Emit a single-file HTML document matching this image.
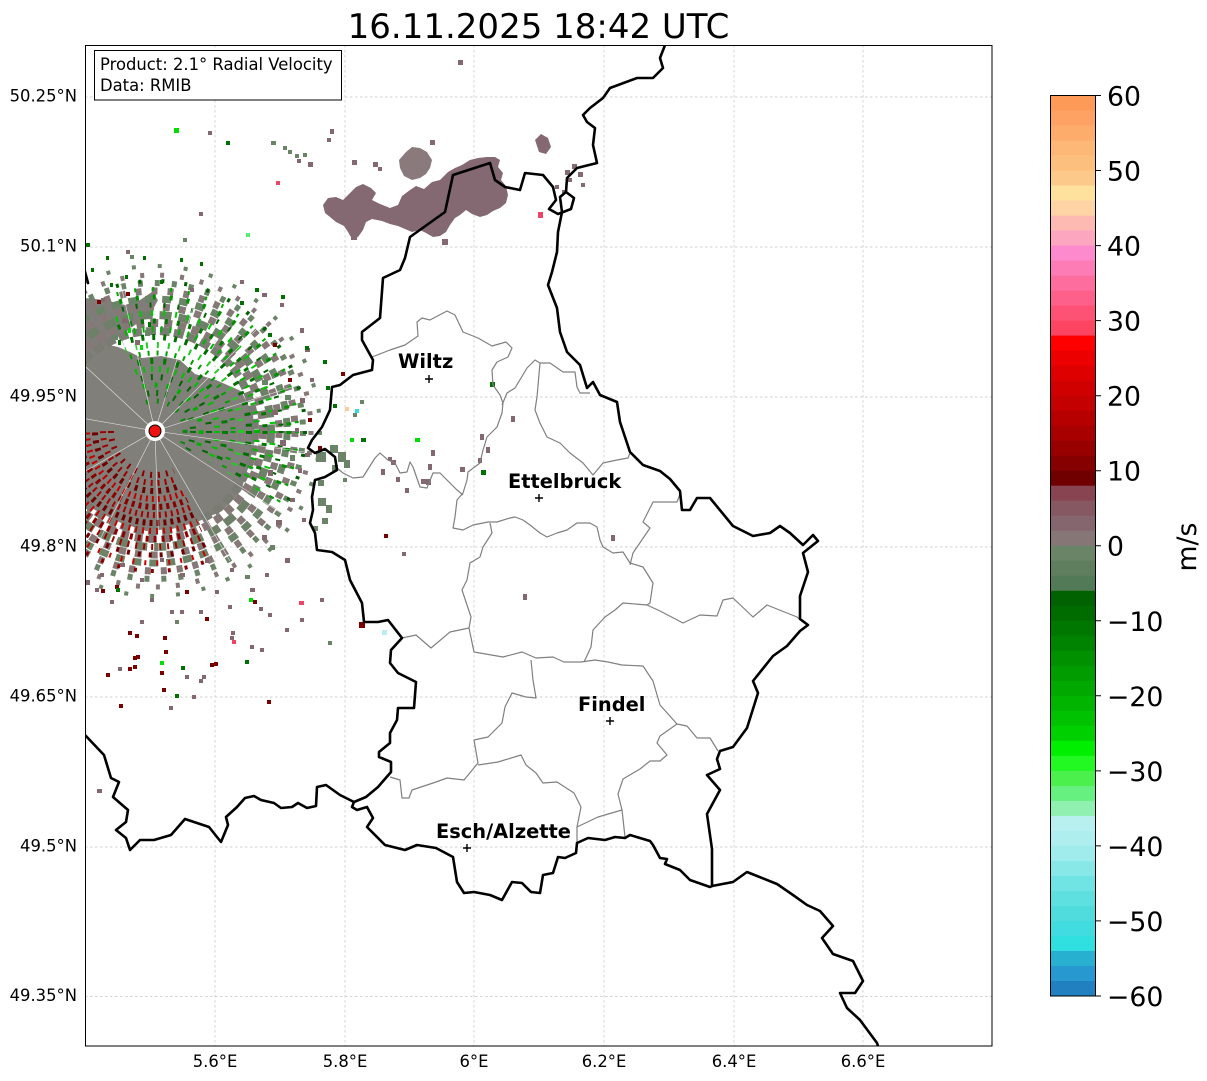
<!DOCTYPE html>
<html><head><meta charset="utf-8"><style>
html,body{margin:0;padding:0;background:#fff;}
svg{display:block;font-family:"DejaVu Sans","Liberation Sans",sans-serif;}
</style></head><body>
<svg width="1207" height="1081" viewBox="0 0 1207 1081" xmlns="http://www.w3.org/2000/svg">
<defs>
<clipPath id="mc"><rect x="85" y="45" width="907" height="1001"/></clipPath>
<clipPath id="nec"><polygon points="155,431 69,196 199,185 316,240 390,346 397,496 372,556"/></clipPath>
<clipPath id="swc"><polygon points="155,431 240,612 120,628 14,572 -42,466 -45,431"/></clipPath>
</defs>
<rect width="1207" height="1081" fill="#fff"/>
<text x="538.5" y="38" font-size="34" text-anchor="middle" fill="#000">16.11.2025 18:42 UTC</text>

<!-- gridlines -->
<g stroke="#c4c4c4" stroke-width="0.7" stroke-dasharray="2.5,2.5" fill="none">
<path d="M215,45V1046M345,45V1046M474,45V1046M604,45V1046M734,45V1046M863,45V1046"/>
<path d="M85,97H992M85,247H992M85,397H992M85,547H992M85,697H992M85,847H992M85,996.5H992"/>
</g>

<g clip-path="url(#mc)">
<!-- radar core -->
<path d="M55,431 L61,397 L71,360 L86,333 L100,343 L118,347 L130,352 L142,358 L161,356 L180,360 L195,374 L216,380 L241,391 L253,414 L255,440 L249,465 L241,491 L222,511 L197,522 L172,529 L146,531 L121,523 L91,508 L68,481 L56,448 Z" fill="#817f7a"/>
<path d="M60,300 L85,298 L105,300 L125,305 L140,300 L152,292 L158,300 L150,315 L135,325 L120,335 L108,345 L95,350 L80,350 L60,345 Z" fill="#807c7a"/>
<g fill="none">
<circle cx="155" cy="431" r="100" stroke="#7a7c74" stroke-width="8" stroke-dasharray="10 4"/>
<circle cx="155" cy="431" r="108" stroke="#857876" stroke-width="8" stroke-dasharray="8 6"/>
<circle cx="155" cy="431" r="116" stroke="#6e8068" stroke-width="8" stroke-dasharray="12 7"/>
<circle cx="155" cy="431" r="124" stroke="#857876" stroke-width="7" stroke-dasharray="7 9"/>
<circle cx="155" cy="431" r="132" stroke="#6b8468" stroke-width="7" stroke-dasharray="9 8"/>
<circle cx="155" cy="431" r="140" stroke="#857876" stroke-width="7" stroke-dasharray="6 10"/>
<circle cx="155" cy="431" r="148" stroke="#6b8468" stroke-width="6" stroke-dasharray="5 12"/>
<circle cx="155" cy="431" r="156" stroke="#857876" stroke-width="5" stroke-dasharray="4 16"/>
<circle cx="155" cy="431" r="165" stroke="#6b8468" stroke-width="4" stroke-dasharray="4 22"/>
</g>
<g fill="none" clip-path="url(#swc)">
<circle cx="155" cy="431" r="44" stroke="#8b0000" stroke-width="6" stroke-dasharray="2 6"/>
<circle cx="155" cy="431" r="52" stroke="#a00000" stroke-width="6" stroke-dasharray="2 5"/>
<circle cx="155" cy="431" r="60" stroke="#700000" stroke-width="6" stroke-dasharray="3 5"/>
<circle cx="155" cy="431" r="68" stroke="#c00000" stroke-width="6" stroke-dasharray="2 4"/>
<circle cx="155" cy="431" r="76" stroke="#8b0000" stroke-width="6" stroke-dasharray="3 4"/>
<circle cx="155" cy="431" r="84" stroke="#a80000" stroke-width="6" stroke-dasharray="2 4"/>
<circle cx="155" cy="431" r="92" stroke="#700000" stroke-width="6" stroke-dasharray="3 4"/>
<circle cx="155" cy="431" r="100" stroke="#c80000" stroke-width="6" stroke-dasharray="2 5"/>
<circle cx="155" cy="431" r="108" stroke="#8b0000" stroke-width="6" stroke-dasharray="3 5"/>
<circle cx="155" cy="431" r="116" stroke="#a00000" stroke-width="6" stroke-dasharray="2 6"/>
<circle cx="155" cy="431" r="124" stroke="#700000" stroke-width="5" stroke-dasharray="3 8"/>
<circle cx="155" cy="431" r="132" stroke="#d00000" stroke-width="5" stroke-dasharray="2 10"/>
<circle cx="155" cy="431" r="140" stroke="#8b0000" stroke-width="4" stroke-dasharray="3 14"/>
</g>
<g fill="none" clip-path="url(#nec)">
<circle cx="155" cy="431" r="30" stroke="#0a8a0a" stroke-width="5" stroke-dasharray="2 9"/>
<circle cx="155" cy="431" r="38" stroke="#007000" stroke-width="6" stroke-dasharray="2 7"/>
<circle cx="155" cy="431" r="46" stroke="#00b000" stroke-width="5" stroke-dasharray="3 9"/>
<circle cx="155" cy="431" r="54" stroke="#006400" stroke-width="6" stroke-dasharray="2 8"/>
<circle cx="155" cy="431" r="62" stroke="#00c000" stroke-width="6" stroke-dasharray="2 6"/>
<circle cx="155" cy="431" r="70" stroke="#007a00" stroke-width="6" stroke-dasharray="3 10"/>
<circle cx="155" cy="431" r="78" stroke="#00a000" stroke-width="5" stroke-dasharray="2 7"/>
<circle cx="155" cy="431" r="86" stroke="#22cc22" stroke-width="6" stroke-dasharray="2 9"/>
<circle cx="155" cy="431" r="94" stroke="#006e00" stroke-width="6" stroke-dasharray="3 8"/>
<circle cx="155" cy="431" r="102" stroke="#00b400" stroke-width="6" stroke-dasharray="2 7"/>
<circle cx="155" cy="431" r="110" stroke="#007800" stroke-width="5" stroke-dasharray="3 9"/>
<circle cx="155" cy="431" r="118" stroke="#00c800" stroke-width="6" stroke-dasharray="2 10"/>
<circle cx="155" cy="431" r="126" stroke="#006400" stroke-width="5" stroke-dasharray="2 12"/>
<circle cx="155" cy="431" r="134" stroke="#009000" stroke-width="5" stroke-dasharray="3 14"/>
<circle cx="155" cy="431" r="142" stroke="#00a800" stroke-width="4" stroke-dasharray="2 16"/>
<circle cx="155" cy="431" r="150" stroke="#006000" stroke-width="4" stroke-dasharray="3 20"/>
</g>
<g stroke="#fff" stroke-width="0.6" opacity="0.8">
<path d="M155,431L7,405M155,431L45,329M155,431L121,285M155,431L199,288M155,431L261,325M155,431L298,385M155,431L304,452M155,431L281,513M155,431L230,561M155,431L160,581M155,431L87,565M155,431L25,506"/>
</g>

<!-- scatter -->
<path fill="#846870" d="M208,131h4v4h-4zM199,212h4v4h-4zM308,162h5v5h-5zM330,129h4v5h-4zM327,138h4v4h-4zM458,60h5v5h-5zM297,159h4v4h-4zM240,280h4v4h-4zM262,293h5v4h-5zM280,303h4v4h-4zM300,328h4v5h-4zM305,348h5v4h-5zM310,378h4v4h-4zM300,398h5v5h-5zM295,428h4v4h-4zM305,453h5v4h-5zM298,468h4v5h-4zM290,498h5v4h-5zM302,518h4v4h-4zM285,558h5v5h-5zM265,573h4v4h-4zM250,588h5v4h-5zM230,568h4v4h-4zM205,558h4v5h-4zM180,573h5v4h-5zM160,558h4v4h-4zM140,578h4v4h-4zM120,563h5v4h-5zM100,573h4v4h-4zM95,588h4v4h-4zM150,598h4v4h-4zM170,610h4v4h-4zM199,610h4v4h-4zM228,605h4v4h-4zM259,607h4v4h-4zM180,610h4v4h-4zM118,667h4v4h-4zM185,675h4v4h-4zM199,679h4v4h-4zM202,675h4v4h-4zM169,706h4v4h-4zM192,695h4v4h-4zM231,631h4v4h-4zM230,636h4v4h-4zM250,645h4v4h-4zM260,648h4v4h-4zM97,789h5v4h-5zM523,594h4v6h-4zM511,416h4v6h-4zM480,434h4v6h-4zM486,447h4v6h-4zM478,458h4v5h-4zM460,467h5v5h-5zM431,450h4v6h-4zM428,464h4v6h-4zM421,479h5v5h-5zM405,488h4v5h-4zM381,469h4v6h-4zM391,460h5v5h-5zM388,457h4v4h-4zM396,477h4v5h-4zM426,479h5v6h-5zM611,535h4v6h-4zM402,552h4v4h-4zM320,598h4v4h-4zM300,618h4v4h-4zM285,628h4v4h-4zM268,613h4v4h-4zM126,250h4v4h-4zM101,298h4v4h-4zM190,288h4v4h-4zM85,580h5v5h-5zM110,600h4v4h-4zM140,620h4v4h-4zM215,590h4v4h-4zM272,410h6v5h-6zM280,440h6v6h-6zM268,470h5v6h-5zM276,520h6v5h-6zM262,535h5v5h-5zM122,318h6v5h-6zM135,340h5v5h-5z"/>
<path fill="#6b8468" d="M271,141h5v4h-5zM283,146h4v4h-4zM288,150h4v4h-4zM295,154h4v4h-4zM303,153h4v4h-4zM183,238h4v4h-4zM328,641h4v4h-4zM175,620h4v4h-4zM330,445h8v8h-8zM338,452h8v10h-8zM344,460h6v8h-6zM332,465h6v6h-6zM318,498h8v8h-8zM326,505h6v8h-6zM322,518h6v6h-6zM313,526h5v5h-5zM343,478h4v4h-4zM353,413h4v4h-4zM360,400h4v4h-4zM316,452h10v10h-10zM318,480h6v6h-6zM130,255h4v4h-4zM270,545h5v5h-5zM245,575h5v4h-5zM285,395h6v5h-6zM290,455h5v6h-5zM262,380h6v5h-6zM112,335h6v5h-6zM145,330h5v6h-5z"/>
<path fill="#7a0000" d="M101,589h4v4h-4zM128,631h4v4h-4zM135,634h4v4h-4zM133,656h4v4h-4zM136,655h4v4h-4zM128,667h4v4h-4zM133,665h4v4h-4zM106,673h4v4h-4zM163,636h4v4h-4zM164,650h4v4h-4zM160,671h4v4h-4zM162,688h4v4h-4zM119,704h4v4h-4zM210,663h4v4h-4zM214,662h4v4h-4zM205,617h4v4h-4zM267,700h4v4h-4zM253,600h4v4h-4zM384,534h4v4h-4zM341,372h4v4h-4zM359,622h6v6h-6zM288,378h4v4h-4zM308,418h4v4h-4zM273,343h4v4h-4zM318,446h4v4h-4zM97,300h4v4h-4zM126,292h4v4h-4zM115,585h4v4h-4zM185,590h4v4h-4z"/>
<path fill="#00dd00" d="M174,128h5v5h-5zM160,661h4v4h-4zM249,598h4v4h-4zM415,438h5v4h-5zM350,438h4v4h-4zM128,328h3v5h-3zM140,345h3v5h-3z"/>
<path fill="#007000" d="M226,141h4v4h-4zM181,666h4v4h-4zM245,660h4v4h-4zM116,588h4v4h-4zM490,382h5v5h-5zM481,470h5v5h-5zM361,438h5v4h-5zM333,404h4v4h-4zM86,243h4v4h-4zM143,256h3v4h-3zM106,256h3v4h-3zM91,268h3v4h-3zM255,288h4v4h-4zM323,360h4v4h-4zM326,386h4v4h-4zM175,694h4v4h-4zM281,295h4v4h-4zM305,346h4v4h-4zM268,333h4v4h-4zM240,301h4v4h-4zM110,283h3v4h-3zM125,275h3v4h-3zM160,280h3v4h-3zM180,258h3v4h-3zM200,262h3v4h-3zM118,340h3v5h-3zM148,322h3v5h-3z"/>
<path fill="#55ee77" d="M246,233h4v4h-4z"/>
<path fill="#ee4466" d="M276,181h4v4h-4zM538,212h5v6h-5zM299,601h5v4h-5zM232,640h4v4h-4z"/>
<path fill="#33dddd" d="M355,409h4v4h-4z"/>
<path fill="#bbeeee" d="M382,630h5v5h-5z"/>
<path fill="#ffcc99" d="M345,407h4v4h-4z"/>

<!-- northern band -->
<g fill="#846872">
<path d="M323,205 L328,198 L336,197 L343,200 L350,193 L356,187 L363,184 L371,188 L376,193 L372,200 L380,204 L390,208 L398,205 L402,196 L410,190 L416,186 L424,189 L432,182 L440,180 L448,172 L455,168 L462,165 L470,160 L478,158 L487,157 L495,157 L500,160 L498,167 L503,173 L501,180 L506,186 L508,195 L506,203 L500,208 L493,211 L487,215 L480,217 L472,214 L466,210 L460,215 L455,218 L450,225 L446,232 L440,236 L433,237 L426,233 L420,230 L412,232 L405,229 L398,226 L390,224 L382,221 L372,219 L366,222 L363,230 L358,237 L352,239 L348,232 L344,226 L336,222 L330,217 L325,213 Z"/>
<path d="M535,140 L541,134 L548,138 L551,147 L546,154 L539,152 Z"/>
<path d="M352,160h5v5h-5zM373,162h5v5h-5zM378,167h4v4h-4zM442,239h6v6h-6zM351,234h6v6h-6zM430,140h5v5h-5zM565,170h5v5h-5zM572,164h5v5h-5zM578,172h5v5h-5zM555,185h4v4h-4zM562,190h4v4h-4zM581,183h4v4h-4zM568,178h4v4h-4z"/>
</g>
<path fill="#8a7a7c" d="M399,160 L406,152 L412,147 L420,148 L427,152 L432,160 L430,168 L426,174 L420,178 L412,180 L404,176 L400,168 Z"/>

<circle cx="155" cy="431" r="10" fill="#fff"/>
<circle cx="155" cy="431" r="6" fill="#ee1111" stroke="#000" stroke-width="1"/>

<!-- canton borders -->
<g fill="none" stroke="#808080" stroke-width="1.2" stroke-linejoin="round">
<path d="M372,357 L390,350 L405,345 L418,336 L417,322 L422,318 L430,320 L447,311 L455,315 L463,332 L478,338 L492,346 L506,342 L512,348 L508,357 L497,362 L492,370 L493,385 L500,395 L503,403 L502,413 L497,427 L487,437 L483,450 L480,463 L468,472 L467,480 L463,493 L457,500 L455,517 L453,528 L463,530 L473,525 L488,522 L497,522 L510,518 L515,517 L523,520 L530,525 L540,533 L547,537 L557,533 L567,530 L577,523 L590,523 L597,527 L600,540 L603,547 L613,553 L623,552 L630,563 L643,567 L653,583 L650,603 L647,605 L660,611 L683,623 L700,615 L717,616 L723,600 L733,598 L753,617 L767,605 L797,617 L807,625"/>
<path d="M630,565 L633,553 L650,528 L643,522 L653,502 L677,502 L680,494"/>
<path d="M337,468 L343,473 L353,478 L363,477 L375,458 L380,453 L388,460 L395,463 L400,473 L407,472 L410,462 L413,467 L420,487 L427,488 L433,473 L440,473 L447,480 L457,490 L463,495"/>
<path d="M502,405 L507,393 L515,388 L527,368 L535,360 L540,363 L550,363 L563,372 L575,372 L577,387 L580,393 L590,393"/>
<path d="M540,363 L537,397 L535,410 L540,423 L547,437 L560,443 L570,453 L583,463 L593,475 L603,463 L617,460 L628,458 L630,453"/>
<path d="M490,523 L492,533 L483,547 L480,557 L470,563 L467,580 L462,590 L471,617 L469,628"/>
<path d="M402,638 L416,635 L431,648 L450,632 L469,628 L474,652 L503,657 L522,652 L536,658 L553,657 L564,662 L581,662 L595,660 L608,662 L622,665 L643,666 L653,681 L660,705 L677,724 L687,726 L697,738 L710,738 L718,751"/>
<path d="M531,660 L533,680 L536,698 L526,697 L512,693 L505,707 L502,723 L488,737 L474,740 L478,763 L464,780 L447,778 L436,782 L412,790 L409,798 L402,798 L400,780 L390,777"/>
<path d="M478,765 L498,762 L521,755 L526,765 L536,773 L543,783 L557,782 L574,793 L581,807 L577,827 L577,842"/>
<path d="M584,662 L591,647 L593,630 L605,617 L615,610 L623,603 L647,605"/>
<path d="M677,724 L660,736 L657,743 L667,755 L660,761 L650,761 L640,769 L623,779 L618,794 L622,810 L625,837"/>
<path d="M577,827 L598,817 L622,810"/>
</g>

<!-- national borders -->
<g fill="none" stroke="#000" stroke-width="2.6" stroke-linejoin="round" stroke-linecap="round">
<path d="M667,40 L660,58 L663,68 L653,78 L637,78 L610,88 L603,98 L590,108 L583,115 L587,122 L595,128 L593,145 L597,163 L577,168 L567,178 L566,192"/>
<path d="M553,187 L556,200 L549,209 L558,214 L571,209 L574,198 L566,192 L560,197 L562,212"/>
<path d="M553,187 L543,175 L525,173 L520,190 L505,187 L495,180 L490,163 L453,175 L445,212 L410,237 L405,258 L400,270 L383,278 L380,318 L362,332 L362,340 L373,360 L372,370 L353,375 L340,385 L332,387 L330,410 L322,427 L312,440 L308,448 L315,453 L325,449 L335,457 L337,470 L325,477 L315,480 L312,497 L313,510 L310,523 L315,533 L317,550 L332,552 L345,560 L350,580 L362,603 L364,622 L378,622 L388,620 L402,638 L391,650 L390,663 L398,673 L416,682 L414,708 L398,708 L397,720 L390,733 L390,743 L379,752 L379,757 L391,762 L391,772 L378,787 L366,797 L354,802 L352,807 L357,810 L367,807 L373,818 L367,827 L385,845 L405,850 L417,845 L436,848 L453,857 L457,882 L464,893 L474,892 L490,895 L502,900 L512,882 L522,883 L531,892 L540,893 L543,875 L553,873 L558,857 L565,858 L576,853 L577,843 L588,838 L605,840 L615,837 L625,838 L630,835 L650,841 L653,845 L660,858 L667,859 L665,864 L680,870 L690,880 L710,887 L712,886 L712,849 L707,814 L720,790 L707,775 L720,769 L717,759 L720,751 L733,747 L747,728 L758,693 L753,681 L773,656 L787,646 L800,631 L808,625 L800,619 L800,596 L808,572 L803,553 L818,541 L813,535 L803,545 L790,533 L780,526 L770,533 L753,536 L747,533 L733,526 L710,498 L697,498 L690,510 L682,510 L680,491 L670,479 L660,471 L643,465 L630,452 L620,422 L617,402 L600,395 L593,382 L587,388 L580,365 L567,352 L560,332 L557,308 L548,285 L552,272 L557,252 L558,232 L562,212"/>
<path d="M712,886 L733,882 L747,872 L757,876 L777,884 L793,895 L807,905 L820,911 L833,926 L822,938 L833,954 L853,961 L863,981 L855,993 L840,993 L847,1008 L860,1020 L877,1043 L880,1052"/>
<path d="M80,730 L85,735 L104,755 L111,778 L119,782 L113,797 L128,810 L126,822 L116,830 L126,838 L130,850 L140,840 L154,840 L171,835 L185,819 L209,827 L221,842 L228,825 L226,817 L237,807 L245,798 L254,796 L261,800 L274,803 L281,808 L292,807 L298,803 L307,808 L316,806 L317,787 L326,785 L340,795 L354,802"/>
<path d="M84,268 L88,283"/>
</g>

<!-- cities -->
<g stroke="#000" stroke-width="1.4">
<path d="M425,379h8M429,375v8M535,498h8M539,494v8M606,721h8M610,717v8M463,848h8M467,844v8"/>
</g>
<g font-size="19.4" font-weight="bold" fill="#000">
<text x="398" y="368">Wiltz</text>
<text x="508" y="488">Ettelbruck</text>
<text x="578" y="711">Findel</text>
<text x="436" y="838">Esch/Alzette</text>
</g>
</g>

<!-- axes frame -->
<rect x="85.5" y="45.5" width="906.5" height="1000.5" fill="none" stroke="#000" stroke-width="1"/>

<!-- info box -->
<rect x="94.5" y="50.5" width="247" height="49.5" fill="#fff" stroke="#000" stroke-width="1"/>
<g font-size="16.4" fill="#000">
<text x="100" y="70">Product: 2.1° Radial Velocity</text>
<text x="100" y="91">Data: RMIB</text>
</g>

<!-- lat labels -->
<g font-size="16.4" fill="#000" text-anchor="end">
<text x="77" y="101.5">50.25°N</text>
<text x="77" y="251.5">50.1°N</text>
<text x="77" y="401.5">49.95°N</text>
<text x="77" y="551.5">49.8°N</text>
<text x="77" y="701.5">49.65°N</text>
<text x="77" y="851.5">49.5°N</text>
<text x="77" y="1001">49.35°N</text>
</g>
<g font-size="16.4" fill="#000" text-anchor="middle">
<text x="215" y="1067">5.6°E</text>
<text x="345" y="1067">5.8°E</text>
<text x="474" y="1067">6°E</text>
<text x="604" y="1067">6.2°E</text>
<text x="734" y="1067">6.4°E</text>
<text x="863" y="1067">6.6°E</text>
</g>

<!-- colorbar -->
<g>
<rect x="1051" y="95.5" width="44" height="15.5" fill="#fd9a58"/>
<rect x="1051" y="110.5" width="44" height="15.5" fill="#fda262"/>
<rect x="1051" y="125.5" width="44" height="15.5" fill="#fdac6c"/>
<rect x="1051" y="140.5" width="44" height="15.5" fill="#fdb878"/>
<rect x="1051" y="155.5" width="44" height="15.5" fill="#fdbf7e"/>
<rect x="1051" y="170.5" width="44" height="15.5" fill="#fdc98a"/>
<rect x="1051" y="185.5" width="44" height="15.5" fill="#fee19c"/>
<rect x="1051" y="200.6" width="44" height="15.5" fill="#fed4a4"/>
<rect x="1051" y="215.6" width="44" height="15.5" fill="#fdbab2"/>
<rect x="1051" y="230.6" width="44" height="15.5" fill="#fca6c0"/>
<rect x="1051" y="245.6" width="44" height="15.5" fill="#fd8acc"/>
<rect x="1051" y="260.6" width="44" height="15.5" fill="#fd7cb6"/>
<rect x="1051" y="275.6" width="44" height="15.5" fill="#fd6e9e"/>
<rect x="1051" y="290.6" width="44" height="15.5" fill="#fd608a"/>
<rect x="1051" y="305.6" width="44" height="15.5" fill="#fd5274"/>
<rect x="1051" y="320.6" width="44" height="15.5" fill="#fd4460"/>
<rect x="1051" y="335.6" width="44" height="15.5" fill="#ff0000"/>
<rect x="1051" y="350.6" width="44" height="15.5" fill="#ec0000"/>
<rect x="1051" y="365.6" width="44" height="15.5" fill="#de0000"/>
<rect x="1051" y="380.7" width="44" height="15.5" fill="#d00000"/>
<rect x="1051" y="395.7" width="44" height="15.5" fill="#c40000"/>
<rect x="1051" y="410.7" width="44" height="15.5" fill="#b60000"/>
<rect x="1051" y="425.7" width="44" height="15.5" fill="#a80000"/>
<rect x="1051" y="440.7" width="44" height="15.5" fill="#980000"/>
<rect x="1051" y="455.7" width="44" height="15.5" fill="#860000"/>
<rect x="1051" y="470.7" width="44" height="15.5" fill="#700000"/>
<rect x="1051" y="485.7" width="44" height="15.5" fill="#884450"/>
<rect x="1051" y="500.7" width="44" height="15.5" fill="#865862"/>
<rect x="1051" y="515.7" width="44" height="15.5" fill="#86666e"/>
<rect x="1051" y="530.7" width="44" height="15.5" fill="#867676"/>
<rect x="1051" y="545.7" width="44" height="15.5" fill="#6a8468"/>
<rect x="1051" y="560.7" width="44" height="15.5" fill="#5e7e5e"/>
<rect x="1051" y="575.8" width="44" height="15.5" fill="#527a56"/>
<rect x="1051" y="590.8" width="44" height="15.5" fill="#006200"/>
<rect x="1051" y="605.8" width="44" height="15.5" fill="#006c00"/>
<rect x="1051" y="620.8" width="44" height="15.5" fill="#007800"/>
<rect x="1051" y="635.8" width="44" height="15.5" fill="#008400"/>
<rect x="1051" y="650.8" width="44" height="15.5" fill="#009000"/>
<rect x="1051" y="665.8" width="44" height="15.5" fill="#009c00"/>
<rect x="1051" y="680.8" width="44" height="15.5" fill="#00a800"/>
<rect x="1051" y="695.8" width="44" height="15.5" fill="#00b400"/>
<rect x="1051" y="710.8" width="44" height="15.5" fill="#00c200"/>
<rect x="1051" y="725.8" width="44" height="15.5" fill="#00d000"/>
<rect x="1051" y="740.8" width="44" height="15.5" fill="#00ee00"/>
<rect x="1051" y="755.8" width="44" height="15.5" fill="#22f822"/>
<rect x="1051" y="770.9" width="44" height="15.5" fill="#4cf04c"/>
<rect x="1051" y="785.9" width="44" height="15.5" fill="#66f080"/>
<rect x="1051" y="800.9" width="44" height="15.5" fill="#90f0b0"/>
<rect x="1051" y="815.9" width="44" height="15.5" fill="#b8f0f0"/>
<rect x="1051" y="830.9" width="44" height="15.5" fill="#aeeeee"/>
<rect x="1051" y="845.9" width="44" height="15.5" fill="#a0ecec"/>
<rect x="1051" y="860.9" width="44" height="15.5" fill="#88e8e8"/>
<rect x="1051" y="875.9" width="44" height="15.5" fill="#70e4e4"/>
<rect x="1051" y="890.9" width="44" height="15.5" fill="#5ee0e0"/>
<rect x="1051" y="905.9" width="44" height="15.5" fill="#50dcdc"/>
<rect x="1051" y="920.9" width="44" height="15.5" fill="#40dce0"/>
<rect x="1051" y="935.9" width="44" height="15.5" fill="#30e0e0"/>
<rect x="1051" y="950.9" width="44" height="15.5" fill="#28b0d0"/>
<rect x="1051" y="966" width="44" height="15.5" fill="#2898d0"/>
<rect x="1051" y="981" width="44" height="15" fill="#2080c0"/>
<rect x="1050.5" y="95.5" width="45" height="900.5" fill="none" stroke="#000" stroke-width="1"/>
<path d="M1095.5,95.5h5.5M1095.5,170.5h5.5M1095.5,245.6h5.5M1095.5,320.6h5.5M1095.5,395.7h5.5M1095.5,470.7h5.5M1095.5,545.7h5.5M1095.5,620.8h5.5M1095.5,695.8h5.5M1095.5,770.9h5.5M1095.5,845.9h5.5M1095.5,920.9h5.5M1095.5,996h5.5" stroke="#000" stroke-width="1"/>
<g font-size="26.7" fill="#000">
<text x="1107" y="105.5">60</text>
<text x="1107" y="180.5">50</text>
<text x="1107" y="255.6">40</text>
<text x="1107" y="330.6">30</text>
<text x="1107" y="405.7">20</text>
<text x="1107" y="480.7">10</text>
<text x="1107" y="555.7">0</text>
<text x="1107" y="630.8">−10</text>
<text x="1107" y="705.8">−20</text>
<text x="1107" y="780.9">−30</text>
<text x="1107" y="855.9">−40</text>
<text x="1107" y="930.9">−50</text>
<text x="1107" y="1006">−60</text>
</g>
<text transform="translate(1196,547) rotate(-90)" font-size="26.7" text-anchor="middle" fill="#000">m/s</text>
</g>
</svg>
</body></html>
